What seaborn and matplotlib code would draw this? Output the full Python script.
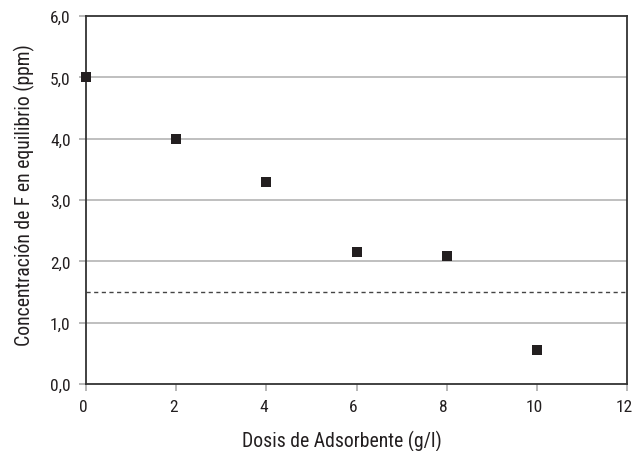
import matplotlib
matplotlib.use("Agg")
import matplotlib.pyplot as plt
import matplotlib.transforms as mtransforms
import seaborn as sns
import pandas as pd
from matplotlib.ticker import FuncFormatter

dosis = [0, 2, 4, 6, 8, 10]
concentracion = [5.0, 4.0, 3.3, 2.15, 2.08, 0.55]
limite = 1.5
xticks = [0, 2, 4, 6, 8, 10, 12]
yticks = [0, 1, 2, 3, 4, 5, 6]

df = pd.DataFrame({"dosis": dosis, "conc": concentracion})

sns.set_theme(style="white")
plt.rcParams['font.family'] = ['Roboto Condensed', 'DejaVu Sans']

fig = plt.figure(figsize=(6.34, 4.52), dpi=100)
ax = fig.add_axes([86/634, 1-385/452, (627-86)/634, (385-17)/452])

for y in yticks[1:-1]:
    ax.axhline(y, color="#b4b4b4", lw=1.2, zorder=0)
ax.axhline(limite, color="#444444", lw=1.0, ls=(0, (3, 2.5)), zorder=1)

sns.scatterplot(data=df, x="dosis", y="conc", marker="s", s=60, color="#231f20",
                edgecolor="#231f20", linewidth=0, ax=ax, zorder=3, clip_on=False)

ax.set_xlim(0, 12)
ax.set_ylim(0, 6)
ax.set_xticks(xticks)
ax.set_yticks(yticks)
ax.yaxis.set_major_formatter(FuncFormatter(lambda v, p: f"{v:.1f}".replace(".", ",")))
ax.xaxis.set_major_formatter(FuncFormatter(lambda v, p: f"{int(v)}"))
ax.tick_params(axis="both", which="major", length=5, width=1.2, color="#aaaaaa",
               labelsize=12.5, labelcolor="#231f20", pad=6, direction="out")
ax.tick_params(axis="both", bottom=True, left=True)
for s in ax.spines.values():
    s.set_color("#333333")
    s.set_linewidth(1.3)

shift = mtransforms.ScaledTranslation(-3/100, 0, fig.dpi_scale_trans)
for lbl in ax.get_xticklabels():
    lbl.set_transform(lbl.get_transform() + shift)

ax.set_xlabel("Dosis de Adsorbente (g/l)", fontsize=14.2, color="#231f20")
ax.set_ylabel("Concentración de F en equilibrio (ppm)", fontsize=14.2, color="#231f20")
ax.xaxis.set_label_coords((342-86)/541, -0.125)
ax.xaxis.label.set_va("top")
ax.yaxis.set_label_coords(-(86-14)/541, (385-195)/368)
ax.yaxis.label.set_va("top")

fig.savefig("out.png", dpi=100)
